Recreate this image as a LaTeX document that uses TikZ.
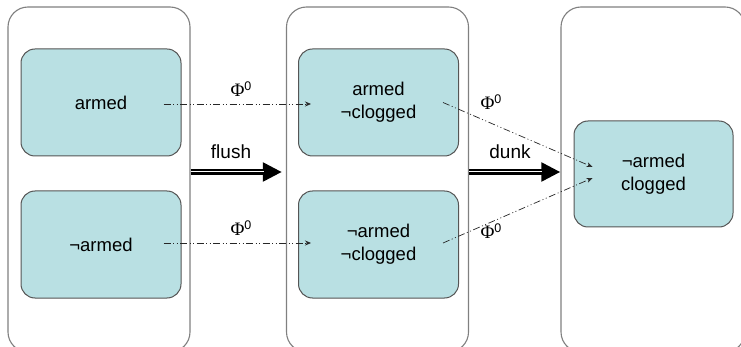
\documentclass[tikz,border=0pt]{standalone}
\usepackage{fontspec}
\setmainfont{Liberation Sans}
\newfontfamily\phifont{Liberation Serif}
\usetikzlibrary{arrows.meta,calc}
\definecolor{stfill}{HTML}{B9E0E3}
\definecolor{stdraw}{HTML}{555555}
\definecolor{outdraw}{HTML}{808080}
\tikzset{
  outerbox/.style={draw=outdraw, line width=1.1pt, rounded corners=20pt, minimum width=182pt, minimum height=345pt, inner sep=0pt},
  statebox/.style={draw=stdraw, line width=1pt, fill=stfill, rounded corners=14pt, minimum width=160pt, minimum height=107pt, inner sep=0pt, align=center, font=\fontsize{18.5}{23}\selectfont},
  phiarrow/.style={draw=black!85, line width=0.7pt, dash pattern=on 7pt off 2.5pt on 1pt off 2.5pt on 1pt off 2.5pt, -{Stealth[length=6pt,width=5pt]}},
  lbl/.style={font=\fontsize{19}{23}\selectfont, inner sep=0pt},
  philbl/.style={inner sep=0pt, font=\fontsize{19}{22}\selectfont},
}
\newcommand{\phizero}{{\phifont Φ}\raisebox{6.5pt}{\fontsize{12.5}{13}\selectfont 0}}
\begin{document}
\begin{tikzpicture}[x=1pt,y=-1pt]
\useasboundingbox (0,0) rectangle (741,347);
\clip (0,0) rectangle (741,347);
\fill[white] (0,0) rectangle (741,347);
% outer boxes
\node[outerbox] (L) at (99,179.5) {};
\node[outerbox] (M) at (377.5,179.5) {};
\node[outerbox, minimum width=184pt] (R) at (653,179.5) {};
% states
\node[statebox] (A) at (101,102.5) {armed};
\node[statebox] (B) at (101,244.5) {¬armed};
\node[statebox] (C) at (378.5,102.5) {armed\\¬clogged};
\node[statebox] (D) at (378.5,244.5) {¬armed\\¬clogged};
\node[statebox, minimum width=159pt, minimum height=106pt] (E) at (653.5,174) {¬armed\\clogged};
% transitions (double arrows)
\coordinate (f1) at ($(L.east)+(0,-7.5)$);
\coordinate (f2) at ($(M.west)+(-4,-7.5)$);
\coordinate (d1) at ($(M.east)+(0,-7.5)$);
\coordinate (d2) at ($(R.west)+(0,-7.5)$);
\foreach \s/\t in {f1/f2, d1/d2}{
  \draw[line width=5.5pt, -{Triangle[length=19pt,width=18pt]}] (\s) -- (\t);
  \draw[white, line width=2.4pt, shorten >=18pt] (\s) -- (\t);
  \draw[black, line width=0.8pt, shorten >=18pt] (\s) -- (\t);
}
\node[lbl] (flushlbl) at (231,152) {flush};
\node[lbl] (dunklbl) at (510,152) {dunk};
% phi arrows
\draw[phiarrow] ($(A.east)+(-18,1.5)$) -- ($(C.west)+(13,1.5)$);
\draw[phiarrow] ($(B.east)+(-18,-1.5)$) -- ($(D.west)+(13,-1.5)$);
\draw[phiarrow] ($(C.east)+(-16,0)$) -- ($(E.west)+(19,-7)$);
\draw[phiarrow] ($(D.east)+(-16,-1.5)$) -- ($(E.west)+(19,4)$);
\node[philbl] (p1) at (241,89) {\phizero};
\node[philbl] (p2) at (241,228) {\phizero};
\node[philbl] (p3) at (491,102) {\phizero};
\node[philbl] (p4) at (491,231) {\phizero};
\end{tikzpicture}
\end{document}
